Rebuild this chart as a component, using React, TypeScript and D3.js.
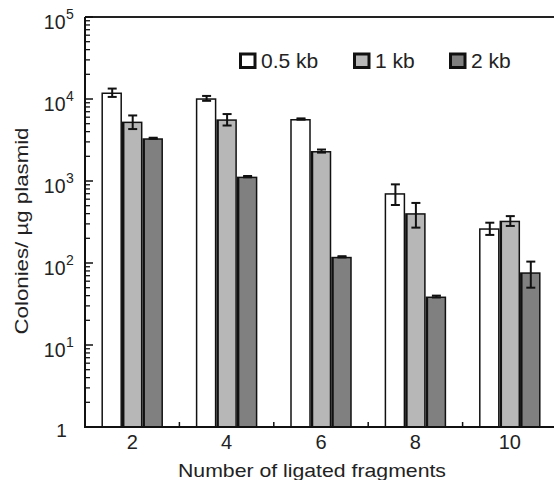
import React from 'react'
import * as d3 from 'd3'

// data
const categories = [2, 4, 6, 8, 10]
const seriesNames = ['0.5 kb', '1 kb', '2 kb']
const halfKb = [12000, 10200, 5700, 710, 265]
const halfKbErr = [1400, 700, 100, 200, 45]
const oneKb = [5300, 5650, 2320, 405, 328]
const oneKbErr = [1000, 900, 100, 135, 45]
const twoKb = [3320, 1130, 119, 39, 77]
const twoKbErr = [50, 20, 2, 1, 27]
const yTickExps = [0, 1, 2, 3, 4, 5]
const xMinorTicks = [3, 5, 7, 9]

const fills = ['#ffffff', '#b7b7b7', '#808080']
const font = 'Liberation Sans, Arial, sans-serif'

const W = 554
const H = 480
const left = 85
const top = 17
const bottom = 427

const App = () => {
  const x = d3.scaleLinear().domain([1, 11]).range([left, 557])
  const y = d3.scaleLog().domain([1, 1e5]).range([bottom, top])

  const vals = [halfKb, oneKb, twoKb]
  const errs = [halfKbErr, oneKbErr, twoKbErr]
  const slot = 20.5

  // minor ticks of the log axis
  const minor: number[] = []
  for (let d = 0; d < 5; d++) {
    for (let m = 2; m <= 9; m++) minor.push(m * Math.pow(10, d))
  }

  const legendX = [239, 353, 449]

  return (
    <svg width={W} height={H} style={{ position: 'absolute', left: 0, top: 0, background: '#fff' }}>
      {/* bars */}
      {categories.map((c, ci) =>
        vals.map((s, si) => {
          const x0 = x(c) - 1.5 * slot + si * slot
          const yt = y(s[ci])
          const lb = si === 0 ? 1.5 : 2.5
          return (
            <g key={`b${ci}-${si}`}>
              <rect x={x0} y={yt} width={slot} height={bottom - yt} fill="#111" />
              <rect x={x0 + lb} y={yt + 1.5} width={slot - lb - 1.5} height={bottom - yt - 1.5} fill={fills[si]} />
            </g>
          )
        })
      )}
      {/* error bars */}
      {categories.map((c, ci) =>
        vals.map((s, si) => {
          const cx = x(c) - 1.5 * slot + si * slot + slot / 2 + 0.5
          const y1 = y(s[ci] + errs[si][ci])
          const y2 = y(Math.max(1, s[ci] - errs[si][ci]))
          return (
            <g key={`e${ci}-${si}`} stroke="#111" strokeWidth={2}>
              <line x1={cx} x2={cx} y1={y1} y2={y2} />
              <line x1={cx - 4.5} x2={cx + 4.5} y1={y1} y2={y1} />
              <line x1={cx - 4.5} x2={cx + 4.5} y1={y2} y2={y2} />
            </g>
          )
        })
      )}

      {/* frame */}
      <line x1={left} x2={W} y1={top} y2={top} stroke="#222" strokeWidth={2} />
      <line x1={left} x2={left} y1={top} y2={bottom} stroke="#111" strokeWidth={2} />
      <line x1={left - 1} x2={W} y1={bottom} y2={bottom} stroke="#111" strokeWidth={2} />

      {/* y ticks */}
      {minor.map((v) => (
        <line key={`m${v}`} x1={left} x2={left + 5} y1={y(v)} y2={y(v)} stroke="#111" strokeWidth={1.3} />
      ))}
      {yTickExps.map((e) => (
        <line key={`M${e}`} x1={left} x2={left + 8} y1={y(Math.pow(10, e))} y2={y(Math.pow(10, e))} stroke="#111" strokeWidth={1.5} />
      ))}
      {yTickExps.map((e) => {
        const ty = y(Math.pow(10, e))
        if (e === 0) {
          return (
            <text key={`l${e}`} x={61.5} y={ty + 10} fontSize={19} fontFamily={font} textAnchor="middle" fill="#222">1</text>
          )
        }
        return (
          <g key={`l${e}`} fontFamily={font} fill="#222">
            <text x={65.5} y={ty + 12} fontSize={19.5} textAnchor="end">10</text>
            <text x={66} y={ty + 2} fontSize={14} textAnchor="start">{e}</text>
          </g>
        )
      })}

      {/* x ticks */}
      {xMinorTicks.map((t) => (
        <line key={`x${t}`} x1={x(t)} x2={x(t)} y1={bottom} y2={bottom - 5} stroke="#111" strokeWidth={1.5} />
      ))}
      {categories.map((c) => (
        <text key={`xl${c}`} x={x(c)} y={449} fontSize={20} fontFamily={font} textAnchor="middle" fill="#222">{c}</text>
      ))}

      {/* axis titles */}
      <text x={312} y={477} fontSize={19} fontFamily={font} textAnchor="middle" fill="#222"
        textLength={268} lengthAdjust="spacingAndGlyphs">Number of ligated fragments</text>
      <text transform="translate(28,231) rotate(-90)" fontSize={19} fontFamily={font} textAnchor="middle" fill="#222"
        textLength={207} lengthAdjust="spacingAndGlyphs">Colonies/ µg plasmid</text>

      {/* legend */}
      {seriesNames.map((n, i) => (
        <g key={n}>
          <rect x={legendX[i] + 1.5} y={54} width={14.5} height={13.5} fill={fills[i]} stroke="#111" strokeWidth={3} />
          <text x={legendX[i] + 22} y={67.5} fontSize={21} fontFamily={font} fill="#222">{n}</text>
        </g>
      ))}
    </svg>
  )
}

export default App
